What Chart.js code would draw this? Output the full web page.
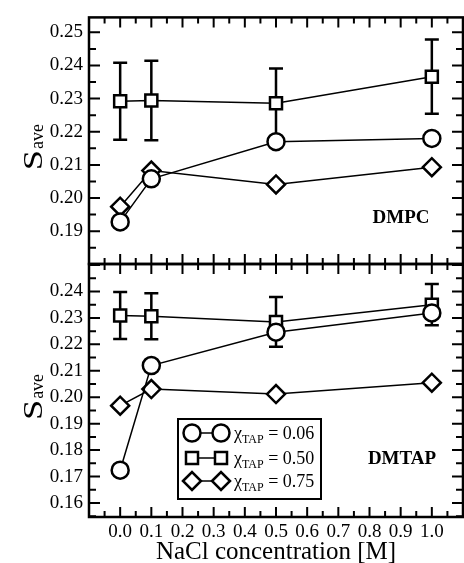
<!DOCTYPE html>
<html>
<head>
<meta charset="utf-8">
<script src="https://cdn.jsdelivr.net/npm/chart.js@4.4.1/dist/chart.umd.min.js"></script>
<style>
  html, body { margin: 0; padding: 0; background: #fff; }
  #wrap { position: relative; width: 464px; height: 563px; }
  #wrap canvas { position: absolute; left: 0; top: 0; }
</style>
</head>
<body>
<div id="wrap">
  <canvas id="dmpc" width="464" height="563"></canvas>
  <canvas id="dmtap" width="464" height="563"></canvas>
</div>
<script>
// NaCl concentration [M]
const concentration = [0.0, 0.1, 0.5, 1.0];
const tapFractions = ['0.06', '0.50', '0.75'];

// DMPC bilayers
const dmpcTap006 = [0.1928, 0.2058, 0.2170, 0.2180];
const dmpcTap050 = [0.2292, 0.2294, 0.2286, 0.2366];
const dmpcTap050Err = [0.0116, 0.0120, 0.0105, 0.0112];
const dmpcTap075 = [0.1974, 0.2083, 0.2041, 0.2093];

// DMTAP bilayers
const dmtapTap006 = [0.1724, 0.2120, 0.2246, 0.2319];
const dmtapTap050 = [0.2309, 0.2306, 0.2285, 0.2350];
const dmtapTap050Err = [0.0089, 0.0087, 0.0094, 0.0078];
const dmtapTap075 = [0.1968, 0.2031, 0.2012, 0.2055];

const xTickValues = [0.0, 0.1, 0.2, 0.3, 0.4, 0.5, 0.6, 0.7, 0.8, 0.9, 1.0];
const dmpcTicks = [0.19, 0.20, 0.21, 0.22, 0.23, 0.24, 0.25];
const dmtapTicks = [0.16, 0.17, 0.18, 0.19, 0.20, 0.21, 0.22, 0.23, 0.24];

const serif = '"Liberation Serif", "Times New Roman", serif';
const markerStyle = ['circle', 'rect', 'rectRot'];
const markerRadius = [8.5, 8.5, 9];

function series(ys, k, errors) {
  return {
    data: concentration.map((x, i) => ({ x: x, y: ys[i] })),
    errors: errors || null,
    showLine: true,
    borderColor: '#000',
    borderWidth: 1.5,
    pointStyle: markerStyle[k],
    pointRadius: markerRadius[k],
    pointHoverRadius: markerRadius[k],
    pointBackgroundColor: '#fff',
    pointBorderColor: '#000',
    pointBorderWidth: 2.5
  };
}

// vertical error bars with caps, drawn under the markers
const errorBars = {
  id: 'errorBars',
  beforeDatasetsDraw(chart) {
    const { ctx, scales: { x, y } } = chart;
    ctx.save();
    ctx.strokeStyle = '#000';
    ctx.lineWidth = 2.5;
    chart.data.datasets.forEach(ds => {
      if (!ds.errors) return;
      ds.data.forEach((p, i) => {
        const px = x.getPixelForValue(p.x);
        const hi = y.getPixelForValue(p.y + ds.errors[i]);
        const lo = y.getPixelForValue(p.y - ds.errors[i]);
        ctx.beginPath();
        ctx.moveTo(px, lo); ctx.lineTo(px, hi);
        ctx.moveTo(px - 7, lo); ctx.lineTo(px + 7, lo);
        ctx.moveTo(px - 7, hi); ctx.lineTo(px + 7, hi);
        ctx.stroke();
      });
    });
    ctx.restore();
  }
};

// box around the plot with ticks pointing inwards on all four sides
function drawFrame(chart) {
  const { ctx, chartArea: a, scales: { x, y } } = chart;
  ctx.save();
  ctx.strokeStyle = '#000';
  ctx.lineWidth = 2;
  ctx.beginPath();
  for (let k = -2; k <= 22; k++) {
    const px = x.getPixelForValue(k * 0.05);
    const len = k % 2 === 0 ? 10 : 6;
    ctx.moveTo(px, a.top); ctx.lineTo(px, a.top + len);
    ctx.moveTo(px, a.bottom); ctx.lineTo(px, a.bottom - len);
  }
  const k0 = Math.ceil(y.min / 0.005 - 1e-6), k1 = Math.floor(y.max / 0.005 + 1e-6);
  for (let k = k0; k <= k1; k++) {
    const py = y.getPixelForValue(k * 0.005);
    const len = k % 2 === 0 ? 11 : 7;
    ctx.moveTo(a.left, py); ctx.lineTo(a.left + len, py);
    ctx.moveTo(a.right, py); ctx.lineTo(a.right - len, py);
  }
  ctx.stroke();
  ctx.lineWidth = 2.5;
  ctx.strokeRect(a.left, a.top, a.right - a.left, a.bottom - a.top);
  ctx.restore();
}

// rotated "S" with subscript "ave"
function drawYTitle(ctx, baseX, centerY) {
  const stretch = 1.3;
  ctx.save();
  ctx.translate(baseX, centerY);
  ctx.rotate(-Math.PI / 2);
  ctx.fillStyle = '#000';
  ctx.textBaseline = 'alphabetic';
  ctx.textAlign = 'left';
  ctx.font = '28px ' + serif;
  const wS = ctx.measureText('S').width * stretch;
  ctx.font = '18px ' + serif;
  const wSub = ctx.measureText('ave').width;
  const start = -(wS + wSub) / 2;
  ctx.save();
  ctx.translate(start, 0);
  ctx.scale(stretch, 1);
  ctx.font = '28px ' + serif;
  ctx.fillText('S', 0, 0);
  ctx.restore();
  ctx.font = '18px ' + serif;
  ctx.fillText('ave', start + wS + 1, 1);
  ctx.restore();
}

function drawChi(ctx, x, y, value) {
  ctx.font = '18px ' + serif;
  ctx.fillText('\u03c7', x, y);
  let cx = x + ctx.measureText('\u03c7').width;
  ctx.font = '12px ' + serif;
  ctx.fillText('TAP', cx, y + 4);
  cx += ctx.measureText('TAP').width;
  ctx.font = '18px ' + serif;
  ctx.fillText(' = ' + value, cx, y);
}

function drawLegend(ctx) {
  const rows = [433, 458, 481];
  ctx.save();
  ctx.fillStyle = '#fff';
  ctx.fillRect(178, 419, 143, 80);
  ctx.strokeStyle = '#000';
  ctx.lineWidth = 2;
  ctx.strokeRect(178, 419, 143, 80);
  rows.forEach((ry, k) => {
    ctx.lineWidth = 1.5;
    ctx.beginPath();
    ctx.moveTo(192, ry); ctx.lineTo(221, ry);
    ctx.stroke();
    ctx.lineWidth = 2.5;
    ctx.fillStyle = '#fff';
    [192, 221].forEach(mx => {
      Chart.helpers.drawPoint(ctx, { pointStyle: markerStyle[k], radius: markerRadius[k], borderWidth: 2.5, rotation: 0 }, mx, ry);
    });
    ctx.fillStyle = '#000';
    ctx.textBaseline = 'alphabetic';
    ctx.textAlign = 'left';
    drawChi(ctx, 234, ry + 6, tapFractions[k]);
  });
  ctx.restore();
}

function panelDecor(name, nameX, nameY, withLegend) {
  return {
    id: 'panelDecor',
    afterDatasetsDraw(chart) {
      const { ctx, chartArea: a } = chart;
      drawFrame(chart);
      drawYTitle(ctx, 42, (a.top + a.bottom) / 2 + 7);
      ctx.save();
      ctx.fillStyle = '#000';
      ctx.font = 'bold 19px ' + serif;
      ctx.textAlign = 'center';
      ctx.textBaseline = 'middle';
      ctx.fillText(name, nameX, nameY);
      ctx.restore();
      if (withLegend) drawLegend(ctx);
    }
  };
}

function panel(id, cfg) {
  return new Chart(document.getElementById(id), {
    type: 'scatter',
    data: { datasets: cfg.datasets },
    options: {
      responsive: false,
      animation: false,
      events: [],
      layout: {
        autoPadding: false,
        padding: { top: cfg.padTop, bottom: cfg.padBottom, left: 0, right: 1 }
      },
      plugins: { legend: { display: false }, tooltip: { enabled: false } },
      scales: {
        x: {
          type: 'linear',
          min: -0.1,
          max: 1.1,
          display: cfg.showX,
          afterBuildTicks: s => { s.ticks = xTickValues.map(v => ({ value: v })); },
          afterFit: s => { s.height = cfg.xHeight; },
          grid: { display: false, drawTicks: false },
          border: { display: false },
          ticks: {
            color: '#000',
            font: { family: serif, size: 19 },
            padding: 4,
            maxRotation: 0,
            autoSkip: false,
            callback: v => v.toFixed(1)
          },
          title: {
            display: cfg.showX,
            text: 'NaCl concentration [M]',
            color: '#000',
            font: { family: serif, size: 25, lineHeight: 0.88 },
            padding: { top: 0, bottom: 0 }
          }
        },
        y: {
          type: 'linear',
          min: cfg.yMin,
          max: cfg.yMax,
          afterBuildTicks: s => { s.ticks = cfg.yTicks.map(v => ({ value: v })); },
          afterFit: s => { s.width = 89; },
          grid: { display: false, drawTicks: false },
          border: { display: false },
          ticks: {
            color: '#000',
            font: { family: serif, size: 19 },
            padding: 6,
            callback: v => v.toFixed(2)
          }
        }
      }
    },
    plugins: [errorBars, panelDecor(cfg.name, cfg.nameX, cfg.nameY, cfg.legend)]
  });
}

panel('dmpc', {
  datasets: [
    series(dmpcTap006, 0),
    series(dmpcTap050, 1, dmpcTap050Err),
    series(dmpcTap075, 2)
  ],
  yMin: 0.1801, yMax: 0.2545, yTicks: dmpcTicks,
  padTop: 13, padBottom: 299, showX: false, xHeight: 0,
  name: 'DMPC', nameX: 401, nameY: 218, legend: false
});

panel('dmtap', {
  datasets: [
    series(dmtapTap006, 0),
    series(dmtapTap050, 1, dmtapTap050Err),
    series(dmtapTap075, 2)
  ],
  yMin: 0.1547, yMax: 0.2504, yTicks: dmtapTicks,
  padTop: 264, padBottom: 0, showX: true, xHeight: 46,
  name: 'DMTAP', nameX: 402, nameY: 459, legend: true
});
</script>
</body>
</html>
